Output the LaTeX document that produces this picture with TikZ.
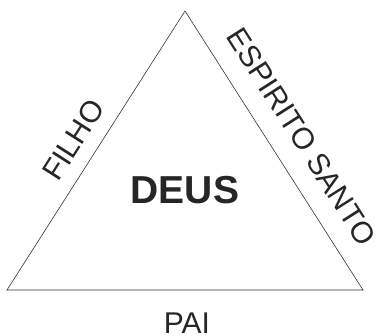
\documentclass[tikz,border=0pt]{standalone}
\usepackage{fontspec}
\setmainfont{Liberation Sans}
\usetikzlibrary{positioning}

\begin{document}
\begin{tikzpicture}[
    x=1pt, y=1pt,
    side/.style={draw=black!80, line width=0.6pt},
    sidelabel/.style={font=\fontsize{30}{30}\selectfont, inner sep=0pt, text=black!85},
    godlabel/.style={font=\fontsize{39}{39}\selectfont\bfseries, text=black!85}
]
\useasboundingbox (0,0) rectangle (378,336);

% Corners of the triangle
\coordinate (apex) at (185,325);
\coordinate (left) at (7,46);
\coordinate (right) at (363,46);

\draw[side] (left) -- (apex) -- (right) -- cycle;

% Labels
\node[godlabel] (deus) at (185,146) {DEUS};
\path (left) -- (apex) node[sidelabel, pos=0.49, sloped, above=14pt] (filho) {FILHO};
\path (apex) -- (right) node[sidelabel, pos=0.51, sloped, above=20pt] (espirito) {ESPIRITO SANTO};
\node[sidelabel, anchor=base] (pai) at (187,2.5) {PAI};

\end{tikzpicture}
\end{document}
